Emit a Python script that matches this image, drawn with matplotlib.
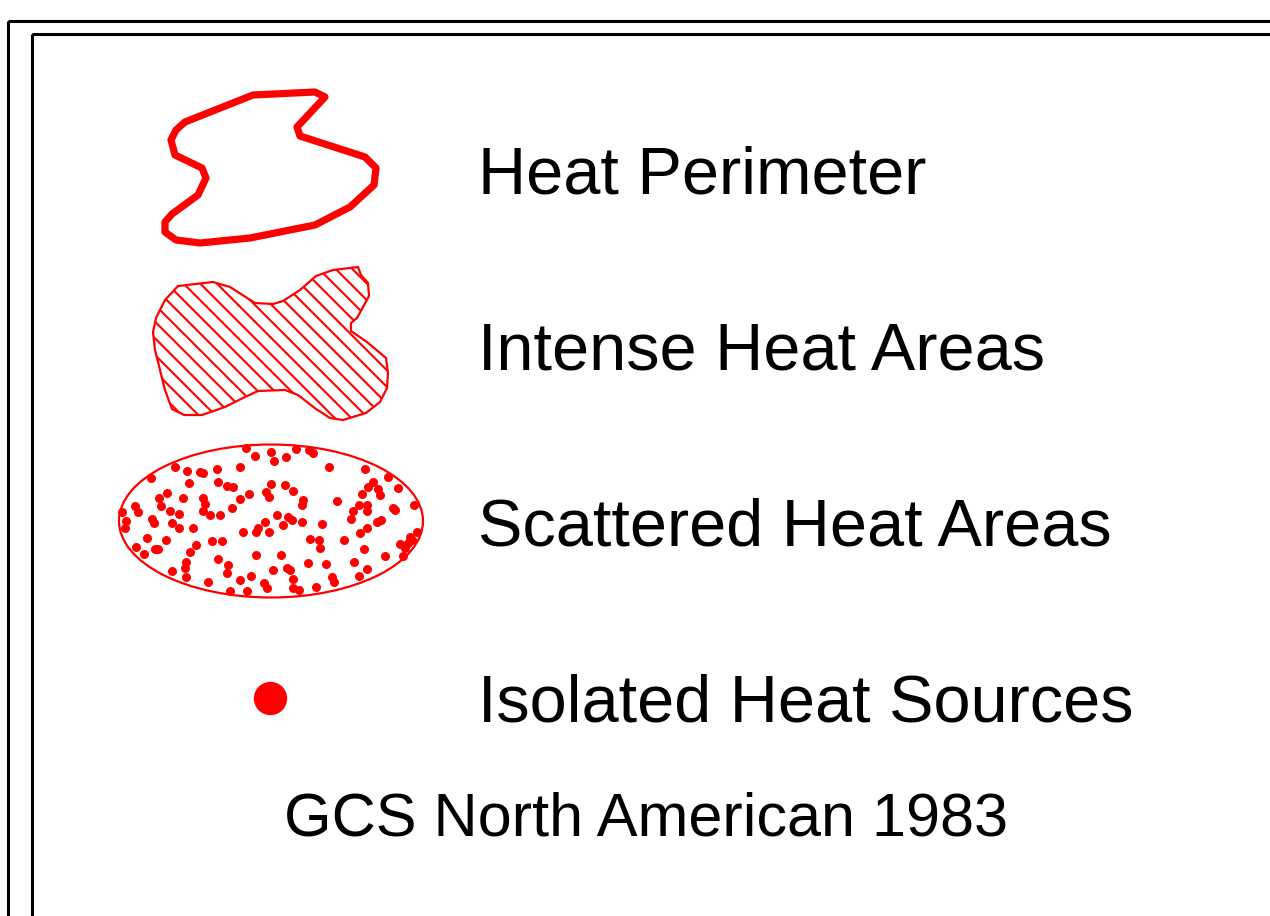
import matplotlib
matplotlib.use("Agg")
import matplotlib.pyplot as plt
from matplotlib.patches import Polygon, Ellipse, Rectangle

plt.rcParams["font.family"] = ["Liberation Sans", "DejaVu Sans"]
plt.rcParams["hatch.linewidth"] = 1.5

# legend labels
labels = ["Heat Perimeter", "Intense Heat Areas", "Scattered Heat Areas",
          "Isolated Heat Sources"]
label_y = [194, 370, 545, 721]
footer = "GCS North American 1983"

# heat perimeter outline (pixel coords)
perim_x = [253, 315, 325, 297, 300, 365, 376, 374, 350, 315, 250, 200, 176,
           165, 165, 172, 198, 206, 202, 175, 171, 176, 185]
perim_y = [95, 92, 97, 127, 136, 157, 168, 185, 207, 225, 238, 243, 240,
           232, 222, 214, 195, 178, 168, 155, 140, 130, 122]

# intense heat area outline
intense_x = [178, 213, 230, 255, 273, 283, 300, 316, 333, 358, 361, 368, 369,
             357, 351, 351, 367, 386, 388, 387, 380, 366, 343, 330, 316, 298,
             285, 258, 245, 225, 202, 184, 172, 165, 155, 153, 156, 165]
intense_y = [286, 282, 287, 303, 304, 301, 290, 276, 270, 267, 275, 283, 296,
             318, 323, 331, 342, 358, 373, 388, 402, 413, 420, 418, 409, 395,
             390, 391, 397, 407, 415, 415, 409, 390, 350, 332, 318, 300]

# scattered heat dots
dots = [(246, 448), (271, 452), (296, 449), (309, 450), (313, 453), (255, 456),
        (274, 461), (286, 457), (175, 467), (187, 471), (200, 472), (203, 473),
        (217, 469), (240, 467), (329, 467), (365, 469), (151, 478), (189, 483),
        (218, 482), (227, 486), (233, 487), (271, 484), (285, 485), (373, 482),
        (388, 477), (368, 487), (378, 489), (398, 488), (167, 493), (183, 498),
        (203, 498), (249, 494), (266, 492), (269, 497), (293, 491), (362, 494),
        (380, 495), (240, 499), (303, 500), (302, 505), (337, 501), (414, 505),
        (135, 506), (161, 506), (205, 504), (232, 508), (359, 505), (367, 505),
        (393, 508), (395, 510), (138, 512), (170, 511), (179, 514), (203, 511),
        (210, 515), (220, 515), (277, 515), (288, 517), (353, 511), (367, 511),
        (122, 512), (152, 519), (154, 523), (172, 523), (179, 528), (193, 528),
        (283, 525), (292, 520), (302, 522), (265, 522), (258, 528), (256, 532),
        (269, 532), (243, 532), (322, 524), (351, 519), (377, 522), (367, 528),
        (381, 520), (126, 521), (125, 528), (360, 533), (417, 532), (412, 540),
        (147, 538), (166, 540), (212, 541), (222, 541), (310, 539), (319, 540),
        (400, 544), (408, 543), (136, 547), (155, 549), (158, 549), (320, 548),
        (364, 549), (144, 554), (190, 552), (256, 555), (281, 555), (385, 556),
        (218, 559), (186, 562), (228, 565), (308, 563), (326, 564), (354, 562),
        (403, 556), (287, 568), (290, 570), (172, 571), (185, 568), (227, 573),
        (273, 570), (367, 569), (186, 577), (251, 576), (293, 579), (332, 577),
        (334, 582), (359, 576), (208, 582), (264, 583), (267, 588), (293, 588),
        (299, 590), (316, 587), (230, 591), (247, 591), (405, 548), (410, 537),
        (159, 498), (344, 540), (240, 580), (196, 545)]

fig = plt.figure(figsize=(12.7, 9.16), dpi=100)
ax = fig.add_axes([0, 0, 1, 1])
ax.set_xlim(0, 1270)
ax.set_ylim(916, 0)
ax.axis("off")

# double frame, running off the right and bottom edges
ax.add_patch(Rectangle((8, 21), 1400, 1000, fill=False, ec="black", lw=2.2))
ax.add_patch(Rectangle((32, 34), 1400, 1000, fill=False, ec="black", lw=2.2))

red = "#ff0000"
ax.add_patch(Polygon(list(zip(perim_x, perim_y)), closed=True, fill=False,
                     ec=red, lw=5.2, joinstyle="round"))
ax.add_patch(Polygon(list(zip(intense_x, intense_y)), closed=True,
                     facecolor="none", ec=red, lw=1.6, hatch="\\\\"))
ax.add_patch(Ellipse((271, 521), 304, 153, fill=False, ec=red, lw=1.6))
ax.scatter([d[0] for d in dots], [d[1] for d in dots], s=42, color=red,
           linewidths=0, zorder=3)
ax.plot([270], [698], "o", color=red, markersize=24, markeredgewidth=0)

for lab, y in zip(labels, label_y):
    ax.text(478, y, lab, fontsize=48, va="baseline", ha="left")
ax.text(284, 836, footer, fontsize=44, va="baseline", ha="left")

fig.savefig("out.png", dpi=100)
